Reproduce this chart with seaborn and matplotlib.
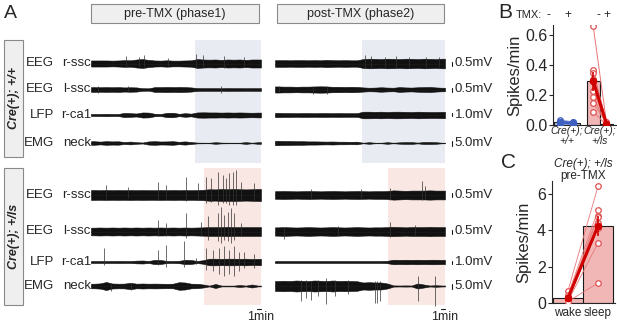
import numpy as np
import pandas as pd
import matplotlib
matplotlib.use('Agg')
import matplotlib.pyplot as plt
from matplotlib.patches import Rectangle
import seaborn as sns

# ---------------- data ----------------
# Panel A: envelope half-amplitude (mV) of each trace, 28 equal time bins per phase
T_MIN = 42.5  # minutes shown per phase

top_p1_rssc = [0.38, 0.38, 0.38, 0.36, 0.38, 0.42, 0.40, 0.50, 0.55, 0.45, 0.38, 0.36, 0.40, 0.36,
               0.36, 0.38, 0.40, 0.55, 0.50, 0.48, 0.50, 0.45, 0.50, 0.48, 0.50, 0.45, 0.50, 0.50]
top_p1_lssc = [0.30, 0.28, 0.30, 0.28, 0.30, 0.26, 0.28, 0.26, 0.16, 0.15, 0.30, 0.30, 0.32, 0.30,
               0.32, 0.30, 0.26, 0.18, 0.17, 0.17, 0.17, 0.16, 0.18, 0.17, 0.17, 0.16, 0.17, 0.17]
top_p1_rca1 = [0.35, 0.35, 0.40, 0.35, 0.35, 0.70, 0.60, 0.50, 0.85, 0.80, 0.40, 0.35, 0.70, 0.75,
               0.40, 0.60, 0.45, 0.85, 0.90, 0.85, 0.85, 0.80, 0.85, 0.80, 0.85, 0.80, 0.75, 0.80]
top_p1_neck = [1.8, 1.4, 1.8, 1.6, 1.7, 1.0, 1.4, 0.8, 0.5, 1.6, 1.8, 1.5, 1.6, 1.8,
               1.2, 1.6, 1.0, 0.4, 0.3, 0.3, 0.8, 0.4, 0.3, 0.3, 0.3, 0.9, 0.3, 0.8]

top_p2_rssc = [0.42, 0.42, 0.40, 0.42, 0.42, 0.40, 0.42, 0.40, 0.45, 0.42, 0.40, 0.42, 0.40, 0.40,
               0.55, 0.60, 0.58, 0.55, 0.60, 0.58, 0.55, 0.60, 0.58, 0.55, 0.60, 0.58, 0.55, 0.60]
top_p2_lssc = [0.38, 0.36, 0.36, 0.34, 0.36, 0.36, 0.38, 0.40, 0.38, 0.34, 0.34, 0.32, 0.34, 0.32,
               0.26, 0.22, 0.24, 0.28, 0.24, 0.22, 0.30, 0.26, 0.24, 0.28, 0.30, 0.32, 0.26, 0.22]
top_p2_rca1 = [0.70, 0.65, 0.65, 0.60, 0.65, 0.65, 0.60, 0.65, 0.65, 0.60, 0.65, 0.60, 0.60, 0.60,
               1.10, 1.10, 1.05, 1.10, 1.00, 1.10, 1.10, 1.05, 1.00, 1.10, 1.05, 1.00, 1.00, 1.05]
top_p2_neck = [2.2, 2.0, 2.0, 1.8, 1.8, 1.6, 1.6, 1.5, 1.4, 1.5, 1.3, 1.3, 1.2, 1.3,
               0.3, 0.8, 0.3, 0.3, 0.8, 0.3, 0.7, 0.9, 0.9, 0.4, 1.0, 1.0, 0.8, 0.3]

bot_p1_rssc = [0.62, 0.60, 0.62, 0.60, 0.62, 0.60, 0.62, 0.60, 0.62, 0.60, 0.60, 0.62, 0.60, 0.62,
               0.60, 0.62, 0.60, 0.62, 0.65, 0.72, 0.70, 0.75, 0.72, 0.75, 0.72, 0.70, 0.72, 0.75]
bot_p1_lssc = [0.48, 0.50, 0.48, 0.50, 0.48, 0.50, 0.48, 0.50, 0.48, 0.50, 0.48, 0.50, 0.48, 0.50,
               0.48, 0.50, 0.48, 0.50, 0.52, 0.55, 0.55, 0.55, 0.58, 0.55, 0.55, 0.55, 0.55, 0.55]
bot_p1_rca1 = [0.33, 0.33, 0.33, 0.33, 0.35, 0.33, 0.33, 0.45, 0.50, 0.35, 0.70, 0.65, 0.35, 0.33,
               0.40, 0.70, 0.65, 0.35, 0.60, 1.10, 1.10, 1.05, 1.10, 1.10, 1.05, 1.10, 1.00, 1.05]
bot_p1_neck = [2.3, 2.6, 4.0, 2.5, 2.3, 2.4, 3.2, 2.3, 2.5, 2.3, 2.4, 2.3, 2.2, 2.3,
               3.8, 3.5, 2.3, 2.2, 1.5, 0.4, 2.0, 0.4, 0.4, 0.4, 1.0, 0.4, 1.5, 0.4]

bot_p2_rssc = [0.48, 0.50, 0.48, 0.46, 0.48, 0.50, 0.48, 0.46, 0.48, 0.50, 0.48, 0.46, 0.48, 0.50,
               0.48, 0.46, 0.48, 0.48, 0.50, 0.58, 0.55, 0.52, 0.55, 0.55, 0.55, 0.58, 0.55, 0.55]
bot_p2_lssc = [0.52, 0.55, 0.52, 0.50, 0.52, 0.55, 0.52, 0.50, 0.52, 0.55, 0.52, 0.50, 0.52, 0.55,
               0.52, 0.50, 0.52, 0.52, 0.55, 0.58, 0.55, 0.52, 0.55, 0.55, 0.55, 0.58, 0.55, 0.55]
bot_p2_rca1 = [0.33, 0.33, 0.33, 0.33, 0.33, 0.33, 0.33, 0.33, 0.33, 0.33, 0.33, 0.33, 0.33, 0.33,
               0.33, 0.33, 0.33, 0.33, 0.40, 0.75, 0.70, 0.75, 0.70, 0.75, 0.70, 0.75, 0.75, 0.70]
bot_p2_neck = [5.0, 5.2, 5.0, 5.5, 5.2, 5.0, 5.5, 5.2, 5.0, 5.5, 5.0, 5.2, 5.0, 4.8,
               3.5, 3.8, 3.5, 3.5, 2.5, 0.6, 0.5, 0.6, 0.5, 2.5, 1.5, 0.5, 0.8, 0.5]

# spikes: (time min, upward mV, downward mV)
top_p1_rssc_spk = [(8.75, 0.9, 0.4), (12.1, 0.8, 0.4), (13.3, 1.05, 0.5), (19.2, 0.75, 0.3),
                   (26.25, 1.25, 0.6), (27.9, 1.05, 0.5), (33.3, 0.9, 0.5), (38.3, 0.85, 0.4)]
top_p1_lssc_spk = [(1.7, 0.45, 0.4), (9.2, 0.45, 0.35), (32.5, 0.5, 0.4)]
top_p2_rssc_spk = [(22.4, 1.05, 0.5), (24.1, 0.9, 0.4), (27.5, 0.85, 0.4), (30.3, 0.9, 0.5),
                   (33.5, 0.8, 0.4), (37.7, 0.85, 0.4), (41.0, 0.8, 0.4)]
top_p2_lssc_spk = [(1.0, 0.5, 0.3), (9.5, 0.5, 0.6), (13.0, 0.45, 0.5)]
bot_p1_rssc_spk = [(3.75, 1.25, 0.5), (9.2, 1.05, 0.4), (16.7, 1.67, 0.6), (18.75, 1.25, 0.5),
                   (23.75, 2.3, 0.8), (26.7, 1.45, 0.6), (28.75, 2.3, 1.0), (30.0, 2.1, 0.9),
                   (31.7, 2.9, 1.2), (32.9, 2.5, 1.0), (33.75, 2.1, 1.0), (34.6, 2.7, 1.2),
                   (35.4, 2.9, 1.2), (36.25, 3.1, 1.3), (37.5, 1.67, 0.8), (40.8, 1.45, 0.7)]
bot_p1_lssc_spk = [(16.7, 1.45, 0.6), (18.75, 1.05, 0.5), (23.75, 2.3, 0.8), (27.5, 1.25, 0.6),
                   (29.2, 1.9, 1.0), (31.7, 2.3, 1.2), (32.5, 3.1, 1.4), (33.3, 2.1, 1.0),
                   (34.2, 2.5, 1.2), (35.0, 2.9, 1.4), (35.8, 2.3, 1.1), (37.5, 1.05, 0.6)]
bot_p1_rca1_spk = [(3.3, 4.7, 1.0), (16.7, 4.1, 1.0), (18.75, 5.8, 1.5), (23.3, 6.9, 1.5),
                   (26.25, 1.3, 0.8), (28.75, 4.7, 2.6), (30.4, 4.0, 3.0), (32.1, 4.7, 4.0),
                   (33.3, 5.2, 4.8), (34.6, 4.0, 4.0), (35.8, 5.2, 4.8), (37.1, 3.3, 3.0),
                   (38.3, 3.3, 2.0), (40.8, 2.7, 2.0)]
bot_p1_neck_spk = [(5.0, 3.5, 4.5), (10.0, 3.5, 4.0)]
bot_p2_rssc_spk = [(9.0, 0.7, 0.5), (21.6, 0.8, 0.4), (28.7, 0.92, 0.6), (36.7, 1.75, 0.6), (37.5, 1.1, 0.5)]
bot_p2_lssc_spk = [(2.3, 0.5, 0.9), (15.7, 0.75, 0.6), (28.7, 1.25, 0.7), (35.0, 0.8, 0.5)]
bot_p2_neck_spk = [(6.5, 6, 15), (7.8, 6, 12), (9.0, 5, 14), (10.7, 6, 10), (12.8, 8, 18), (14.9, 6, 10),
                   (18.2, 6, 8), (24.9, 5, 17), (25.6, 5, 17), (26.3, 5, 15), (35.8, 10, 15), (40.0, 10, 20)]

# sleep period onset (min) per group / phase
sleep_start_top = [26.0, 21.75]
sleep_start_bot = [28.25, 28.25]

channels = [('EEG', 'r-ssc'), ('EEG', 'l-ssc'), ('LFP', 'r-ca1'), ('EMG', 'neck')]
scale_mv = [0.5, 0.5, 1.0, 5.0]
scale_labels = ['0.5mV', '0.5mV', '1.0mV', '5.0mV']

# Panel B: spikes/min pre/post TMX
wt_pre = [0.035, 0.02, 0.015, 0.01, 0.005]
wt_post = [0.02, 0.02, 0.015, 0.01, 0.005]
ls_pre = [0.66, 0.37, 0.35, 0.31, 0.23, 0.19, 0.15, 0.09]
ls_post = [0.02, 0.01, 0.02, 0.0, 0.01, 0.0, 0.01, 0.0]
geno_labels = ['Cre(+);\n+/+', 'Cre(+);\n+/ls']

# Panel C: spikes/min by state, Cre(+);+/ls pre-TMX
wake = [0.68, 0.45, 0.35, 0.25, 0.18, 0.12, 0.10, 0.08]
sleep = [6.4, 5.1, 4.8, 4.7, 4.4, 4.1, 3.3, 1.1]
state_labels = ['wake', 'sleep']

# ---------------- style ----------------
sns.set_theme(style='ticks')
plt.rcParams['font.family'] = ['Liberation Sans', 'DejaVu Sans']

W, H = 617, 325
fig = plt.figure(figsize=(W / 100, H / 100), dpi=100)


def rect(x0, y0, x1, y1):
    return [x0 / W, 1 - y1 / H, (x1 - x0) / W, (y1 - y0) / H]


def ftext(x, y, s, **kw):
    fig.text(x / W, 1 - y / H, s, **kw)


def fbox(x0, y0, x1, y1, fc='#efefef', ec='#8a8a8a'):
    fig.add_artist(Rectangle((x0 / W, 1 - y1 / H), (x1 - x0) / W, (y1 - y0) / H,
                             transform=fig.transFigure, fc=fc, ec=ec, lw=0.8))


# ---------------- panel A ----------------
gains = [8, 8, 3, 1]  # px per mV
blue_shade = '#e9ebf3'
pink_shade = '#f8e7e3'
phase_x = [(91, 261), (275, 445)]
group_y = [(40, 163), (168, 305)]
offsets = [[23.5, 49.5, 75, 103], [27, 63.5, 94, 118]]

envs = [
    [[top_p1_rssc, top_p1_lssc, top_p1_rca1, top_p1_neck],
     [top_p2_rssc, top_p2_lssc, top_p2_rca1, top_p2_neck]],
    [[bot_p1_rssc, bot_p1_lssc, bot_p1_rca1, bot_p1_neck],
     [bot_p2_rssc, bot_p2_lssc, bot_p2_rca1, bot_p2_neck]],
]
spks = [
    [[top_p1_rssc_spk, top_p1_lssc_spk, [], []],
     [top_p2_rssc_spk, top_p2_lssc_spk, [], []]],
    [[bot_p1_rssc_spk, bot_p1_lssc_spk, bot_p1_rca1_spk, bot_p1_neck_spk],
     [bot_p2_rssc_spk, bot_p2_lssc_spk, [], bot_p2_neck_spk]],
]
starts = [sleep_start_top, sleep_start_bot]
shades = [blue_shade, pink_shade]

for g, (gy0, gy1) in enumerate(group_y):
    for p, (px0, px1) in enumerate(phase_x):
        ax = fig.add_axes(rect(px0, gy0, px1, gy1))
        ax.set_xlim(0, T_MIN)
        ax.set_ylim(gy1 - gy0, 0)
        ax.axis('off')
        ax.axvspan(starts[g][p], T_MIN, color=shades[g], lw=0, zorder=0)
        for c in range(4):
            env = np.array(envs[g][p][c])
            off = offsets[g][c]
            gain = gains[c]
            step = T_MIN / len(env)
            centers = (np.arange(len(env)) + 0.5) * step
            xs = np.concatenate([[0], centers, [T_MIN]])
            ys = np.concatenate([[env[0]], env, [env[-1]]]) * gain
            ax.fill_between(xs, off - ys, off + ys, color='#111111', lw=0.4, zorder=2)
            ax.plot([0, T_MIN], [off, off], color='k', lw=0.6, zorder=2)
            for t, up, dn in spks[g][p][c]:
                ax.vlines(t, off - up * gain, off + dn * gain, color='#333333', lw=0.5,
                          zorder=2, clip_on=False)
            if p == 1:
                xb = T_MIN + 7 / 4
                half = scale_mv[c] * gain / 2
                ax.plot([xb, xb], [off - half, off + half], color='k', lw=0.8, clip_on=False)
                ax.text(T_MIN + 2.4, off, scale_labels[c], fontsize=9.5, va='center', ha='left')
        if g == 1:
            ybar = (gy1 - gy0) + 3.5
            ax.plot([T_MIN - 1, T_MIN], [ybar, ybar], color='k', lw=0.8, clip_on=False)
            ax.text(T_MIN - 0.1, ybar + 2, '1min', fontsize=9, ha='center', va='top')

# channel labels
for g in range(2):
    for c, (kind, site) in enumerate(channels):
        y = group_y[g][0] + offsets[g][c]
        ftext(54, y, kind, fontsize=9.5, ha='right', va='center')
        ftext(91, y, site, fontsize=9.5, ha='right', va='center')

# header boxes
fbox(91, 4, 259, 23)
ftext(175, 13.5, 'pre-TMX (phase1)', fontsize=9, ha='center', va='center')
fbox(277, 4, 444, 23)
ftext(360.5, 13.5, 'post-TMX (phase2)', fontsize=9, ha='center', va='center')

# genotype boxes
fbox(4, 40, 23, 157)
ftext(14, 98, 'Cre(+); +/+', fontsize=9, rotation=90, ha='center', va='center',
      style='italic', fontweight='bold')
fbox(4, 168, 23, 305)
ftext(14, 236, 'Cre(+); +/ls', fontsize=9, rotation=90, ha='center', va='center',
      style='italic', fontweight='bold')

ftext(10, 13, 'A', fontsize=14, ha='center', va='center')

# ---------------- panel B ----------------
red = '#d00000'
light_red = '#e87878'
pink_bar = '#f1b7b7'
blue = '#3f5fbf'
light_blue = '#8e9fd8'

axB = fig.add_axes(rect(553, 25, 617, 125))
dfB = pd.concat([
    pd.DataFrame({'geno': 'wt', 'animal': range(len(wt_pre)), 'pos': 0.0, 'value': wt_pre}),
    pd.DataFrame({'geno': 'wt', 'animal': range(len(wt_post)), 'pos': 1.0, 'value': wt_post}),
    pd.DataFrame({'geno': 'ls', 'animal': range(len(ls_pre)), 'pos': 2.5, 'value': ls_pre}),
    pd.DataFrame({'geno': 'ls', 'animal': range(len(ls_post)), 'pos': 3.5, 'value': ls_post}),
], ignore_index=True)

for geno, fc, lc, mc in [('wt', '#c3cdf0', light_blue, blue), ('ls', pink_bar, light_red, '#e05050')]:
    sub = dfB[dfB.geno == geno]
    sns.barplot(data=sub, x='pos', y='value', native_scale=True, width=1, errorbar=None,
                color=fc, saturation=1, edgecolor='k', linewidth=0.8, ax=axB, zorder=1)
    sns.lineplot(data=sub, x='pos', y='value', units='animal', estimator=None, color=lc,
                 lw=0.7, marker='o', markersize=4, mfc='white', mec=mc, mew=0.9,
                 ax=axB, legend=False, zorder=3)

for pre, post, xs, col in [(wt_pre, wt_post, [0, 1], blue), (ls_pre, ls_post, [2.5, 3.5], red)]:
    means = [np.mean(pre), np.mean(post)]
    sems = [np.std(pre, ddof=1) / np.sqrt(len(pre)), np.std(post, ddof=1) / np.sqrt(len(post))]
    axB.errorbar(xs, means, yerr=sems, color=col, lw=2.2, marker='o', ms=4.5,
                 elinewidth=1.2, capsize=0, zorder=4)

axB.set_xlim(-0.55, 4.3)
axB.set_ylim(0, 0.67)
axB.set_yticks([0.0, 0.2, 0.4, 0.6])
axB.set_yticklabels(['0.0', '0.2', '0.4', '0.6'], fontsize=11.5)
axB.set_xticks([0.5, 3.0])
axB.set_xticklabels(geno_labels, fontsize=7.5, style='italic', linespacing=0.95)
axB.tick_params(axis='x', length=0, pad=1)
axB.tick_params(axis='y', length=3, width=0.8, pad=1)
axB.set_xlabel('')
axB.set_ylabel('Spikes/min', fontsize=12, labelpad=2)
for s in ['left', 'bottom']:
    axB.spines[s].set_linewidth(0.8)
sns.despine(ax=axB)

ftext(505, 13, 'B', fontsize=15, ha='center', va='center')
ftext(542, 15, 'TMX:', fontsize=8, ha='right', va='center')
for x, s in [(548, '-'), (568, '+'), (598, '-'), (607, '+')]:
    ftext(x, 15, s, fontsize=8.5, ha='center', va='center')

# ---------------- panel C ----------------
axC = fig.add_axes(rect(551.5, 181, 614.5, 303))
dfC = pd.concat([
    pd.DataFrame({'animal': range(len(wake)), 'pos': 0.0, 'value': wake}),
    pd.DataFrame({'animal': range(len(sleep)), 'pos': 1.0, 'value': sleep}),
], ignore_index=True)
sns.barplot(data=dfC, x='pos', y='value', native_scale=True, width=1, errorbar=None,
            color=pink_bar, saturation=1, edgecolor='k', linewidth=0.8, ax=axC, zorder=1)
sns.lineplot(data=dfC, x='pos', y='value', units='animal', estimator=None, color=light_red,
             lw=0.6, marker='o', markersize=4, mfc='white', mec='#e05050', mew=0.9,
             ax=axC, legend=False, zorder=3)
meansC = [np.mean(wake), np.mean(sleep)]
semsC = [np.std(wake, ddof=1) / np.sqrt(len(wake)), np.std(sleep, ddof=1) / np.sqrt(len(sleep))]
axC.errorbar([0, 1], meansC, yerr=semsC, color=red, lw=2.2, marker='o', ms=4.5,
             elinewidth=1.2, capsize=0, zorder=4)
axC.set_xlim(-0.55, 1.55)
axC.set_ylim(0, 6.7)
axC.set_yticks([0, 2, 4, 6])
axC.set_yticklabels(['0', '2', '4', '6'], fontsize=11.5)
axC.set_xticks([0, 1])
axC.set_xticklabels(state_labels, fontsize=8.5)
axC.tick_params(axis='x', length=0, pad=3)
axC.tick_params(axis='y', length=3, width=0.8, pad=1)
axC.set_xlabel('')
axC.set_ylabel('Spikes/min', fontsize=12, labelpad=4)
for s in ['left', 'bottom']:
    axC.spines[s].set_linewidth(0.8)
sns.despine(ax=axC)

ftext(508, 162, 'C', fontsize=15, ha='center', va='center')
ftext(583, 164, 'Cre(+); +/ls', fontsize=8.5, ha='center', va='center', style='italic')
ftext(583, 176, 'pre-TMX', fontsize=8.5, ha='center', va='center')

fig.savefig('out.png', dpi=100)
